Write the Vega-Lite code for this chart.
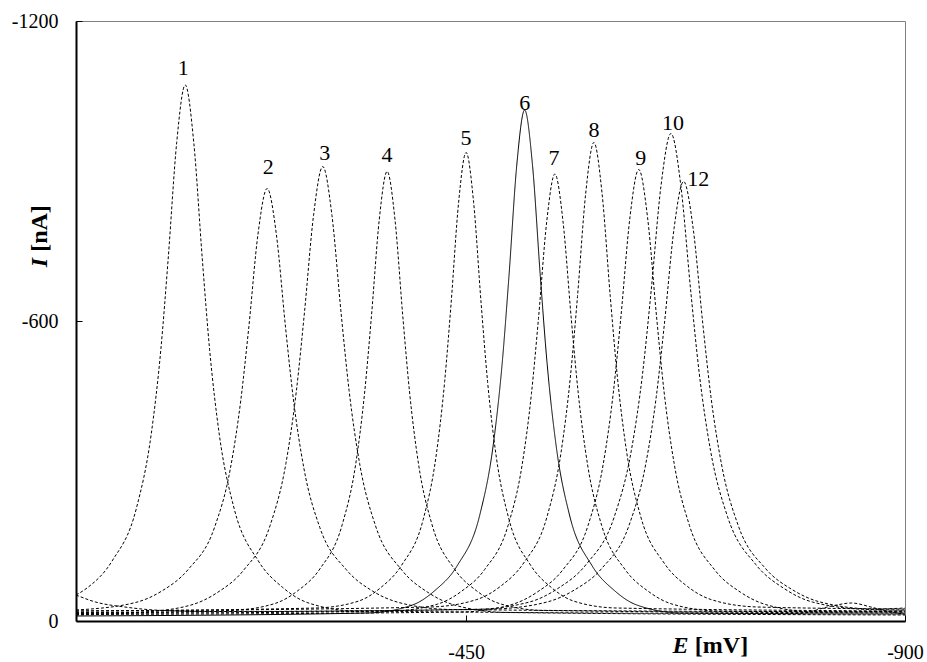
{
  "$schema": "https://vega.github.io/schema/vega-lite/v6.json",
  "width": 829,
  "height": 600,
  "autosize": {"type": "none"},
  "padding": {"left": 76, "top": 21, "right": 22, "bottom": 41},
  "background": "white",
  "config": {"view": {"stroke": "#808080", "strokeWidth": 1}, "font": "Liberation Serif"},
  "datasets": {
    "curves": [
      {"c": 1, "E": -50, "I": -52}, {"c": 1, "E": -62, "I": -67}, {"c": 1, "E": -87, "I": -120}, {"c": 1, "E": -112, "I": -226}, {"c": 1, "E": -127, "I": -372}, {"c": 1, "E": -137, "I": -543}, {"c": 1, "E": -144.5, "I": -724}, {"c": 1, "E": -153.25, "I": -957}, {"c": 1, "E": -162, "I": -1072}, {"c": 1, "E": -170.75, "I": -957}, {"c": 1, "E": -179.5, "I": -724}, {"c": 1, "E": -187, "I": -543}, {"c": 1, "E": -197, "I": -372}, {"c": 1, "E": -212, "I": -226}, {"c": 1, "E": -237, "I": -120}, {"c": 1, "E": -262, "I": -67}, {"c": 1, "E": -287, "I": -37}, {"c": 1, "E": -337, "I": -20}, {"c": 1, "E": -790, "I": -15}, {"c": 1, "E": -825, "I": -30}, {"c": 1, "E": -845, "I": -36}, {"c": 1, "E": -865, "I": -28}, {"c": 1, "E": -885, "I": -18}, {"c": 1, "E": -900, "I": -14},
      {"c": 2, "E": -50, "I": -22}, {"c": 2, "E": -111, "I": -37}, {"c": 2, "E": -138, "I": -60}, {"c": 2, "E": -165, "I": -103}, {"c": 2, "E": -192, "I": -187}, {"c": 2, "E": -208.2, "I": -304}, {"c": 2, "E": -219, "I": -442}, {"c": 2, "E": -227.1, "I": -586}, {"c": 2, "E": -236.55, "I": -773}, {"c": 2, "E": -246, "I": -865}, {"c": 2, "E": -255.45, "I": -773}, {"c": 2, "E": -264.9, "I": -586}, {"c": 2, "E": -273, "I": -442}, {"c": 2, "E": -283.8, "I": -304}, {"c": 2, "E": -300, "I": -187}, {"c": 2, "E": -327, "I": -103}, {"c": 2, "E": -354, "I": -60}, {"c": 2, "E": -381, "I": -37}, {"c": 2, "E": -435, "I": -23}, {"c": 2, "E": -900, "I": -18},
      {"c": 3, "E": -50, "I": -12}, {"c": 3, "E": -114, "I": -17}, {"c": 3, "E": -168, "I": -32}, {"c": 3, "E": -195, "I": -57}, {"c": 3, "E": -222, "I": -102}, {"c": 3, "E": -249, "I": -191}, {"c": 3, "E": -265.2, "I": -315}, {"c": 3, "E": -276, "I": -461}, {"c": 3, "E": -284.1, "I": -614}, {"c": 3, "E": -293.55, "I": -811}, {"c": 3, "E": -303, "I": -909}, {"c": 3, "E": -312.45, "I": -811}, {"c": 3, "E": -321.9, "I": -614}, {"c": 3, "E": -330, "I": -461}, {"c": 3, "E": -340.8, "I": -315}, {"c": 3, "E": -357, "I": -191}, {"c": 3, "E": -384, "I": -102}, {"c": 3, "E": -411, "I": -57}, {"c": 3, "E": -438, "I": -32}, {"c": 3, "E": -492, "I": -17}, {"c": 3, "E": -900, "I": -12},
      {"c": 4, "E": -50, "I": -16}, {"c": 4, "E": -208, "I": -21}, {"c": 4, "E": -254, "I": -35}, {"c": 4, "E": -277, "I": -60}, {"c": 4, "E": -300, "I": -104}, {"c": 4, "E": -323, "I": -193}, {"c": 4, "E": -336.8, "I": -314}, {"c": 4, "E": -346, "I": -458}, {"c": 4, "E": -352.9, "I": -609}, {"c": 4, "E": -360.95, "I": -803}, {"c": 4, "E": -369, "I": -899}, {"c": 4, "E": -377.05, "I": -803}, {"c": 4, "E": -385.1, "I": -609}, {"c": 4, "E": -392, "I": -458}, {"c": 4, "E": -401.2, "I": -314}, {"c": 4, "E": -415, "I": -193}, {"c": 4, "E": -438, "I": -104}, {"c": 4, "E": -461, "I": -60}, {"c": 4, "E": -484, "I": -35}, {"c": 4, "E": -530, "I": -21}, {"c": 4, "E": -900, "I": -16},
      {"c": 5, "E": -50, "I": -20}, {"c": 5, "E": -296, "I": -26}, {"c": 5, "E": -340, "I": -40}, {"c": 5, "E": -362, "I": -66}, {"c": 5, "E": -384, "I": -112}, {"c": 5, "E": -406, "I": -203}, {"c": 5, "E": -419.2, "I": -330}, {"c": 5, "E": -428, "I": -479}, {"c": 5, "E": -434.6, "I": -635}, {"c": 5, "E": -442.3, "I": -837}, {"c": 5, "E": -450, "I": -937}, {"c": 5, "E": -457.7, "I": -837}, {"c": 5, "E": -465.4, "I": -635}, {"c": 5, "E": -472, "I": -479}, {"c": 5, "E": -480.8, "I": -330}, {"c": 5, "E": -494, "I": -203}, {"c": 5, "E": -516, "I": -112}, {"c": 5, "E": -538, "I": -66}, {"c": 5, "E": -560, "I": -40}, {"c": 5, "E": -604, "I": -26}, {"c": 5, "E": -900, "I": -20},
      {"c": 6, "E": -50, "I": -10}, {"c": 6, "E": -349, "I": -16}, {"c": 6, "E": -395, "I": -32}, {"c": 6, "E": -418, "I": -61}, {"c": 6, "E": -441, "I": -111}, {"c": 6, "E": -464, "I": -212}, {"c": 6, "E": -477.8, "I": -352}, {"c": 6, "E": -487, "I": -516}, {"c": 6, "E": -493.9, "I": -689}, {"c": 6, "E": -501.95, "I": -912}, {"c": 6, "E": -510, "I": -1022}, {"c": 6, "E": -518.05, "I": -912}, {"c": 6, "E": -526.1, "I": -689}, {"c": 6, "E": -533, "I": -516}, {"c": 6, "E": -542.2, "I": -352}, {"c": 6, "E": -556, "I": -212}, {"c": 6, "E": -579, "I": -111}, {"c": 6, "E": -602, "I": -61}, {"c": 6, "E": -625, "I": -32}, {"c": 6, "E": -671, "I": -16}, {"c": 6, "E": -900, "I": -14},
      {"c": 7, "E": -50, "I": -15}, {"c": 7, "E": -373, "I": -20}, {"c": 7, "E": -421, "I": -34}, {"c": 7, "E": -445, "I": -59}, {"c": 7, "E": -469, "I": -103}, {"c": 7, "E": -493, "I": -191}, {"c": 7, "E": -507.4, "I": -312}, {"c": 7, "E": -517, "I": -455}, {"c": 7, "E": -524.2, "I": -605}, {"c": 7, "E": -532.6, "I": -798}, {"c": 7, "E": -541, "I": -894}, {"c": 7, "E": -549.4, "I": -798}, {"c": 7, "E": -557.8, "I": -605}, {"c": 7, "E": -565, "I": -455}, {"c": 7, "E": -574.6, "I": -312}, {"c": 7, "E": -589, "I": -191}, {"c": 7, "E": -613, "I": -103}, {"c": 7, "E": -637, "I": -59}, {"c": 7, "E": -661, "I": -34}, {"c": 7, "E": -709, "I": -20}, {"c": 7, "E": -900, "I": -18},
      {"c": 8, "E": -50, "I": -20}, {"c": 8, "E": -413, "I": -28}, {"c": 8, "E": -461, "I": -43}, {"c": 8, "E": -485, "I": -69}, {"c": 8, "E": -509, "I": -116}, {"c": 8, "E": -533, "I": -209}, {"c": 8, "E": -547.4, "I": -338}, {"c": 8, "E": -557, "I": -490}, {"c": 8, "E": -564.2, "I": -649}, {"c": 8, "E": -572.6, "I": -855}, {"c": 8, "E": -581, "I": -957}, {"c": 8, "E": -589.4, "I": -855}, {"c": 8, "E": -597.8, "I": -649}, {"c": 8, "E": -605, "I": -490}, {"c": 8, "E": -614.6, "I": -338}, {"c": 8, "E": -629, "I": -209}, {"c": 8, "E": -653, "I": -116}, {"c": 8, "E": -677, "I": -69}, {"c": 8, "E": -701, "I": -43}, {"c": 8, "E": -749, "I": -28}, {"c": 8, "E": -900, "I": -24},
      {"c": 9, "E": -50, "I": -13}, {"c": 9, "E": -445, "I": -18}, {"c": 9, "E": -497, "I": -33}, {"c": 9, "E": -523, "I": -58}, {"c": 9, "E": -549, "I": -102}, {"c": 9, "E": -575, "I": -191}, {"c": 9, "E": -590.6, "I": -314}, {"c": 9, "E": -601, "I": -458}, {"c": 9, "E": -608.8, "I": -610}, {"c": 9, "E": -617.9, "I": -806}, {"c": 9, "E": -627, "I": -903}, {"c": 9, "E": -636.1, "I": -806}, {"c": 9, "E": -645.2, "I": -610}, {"c": 9, "E": -653, "I": -458}, {"c": 9, "E": -663.4, "I": -314}, {"c": 9, "E": -679, "I": -191}, {"c": 9, "E": -705, "I": -102}, {"c": 9, "E": -731, "I": -58}, {"c": 9, "E": -757, "I": -33}, {"c": 9, "E": -809, "I": -18}, {"c": 9, "E": -900, "I": -20},
      {"c": 10, "E": -50, "I": -17}, {"c": 10, "E": -457, "I": -23}, {"c": 10, "E": -515, "I": -38}, {"c": 10, "E": -544, "I": -65}, {"c": 10, "E": -573, "I": -113}, {"c": 10, "E": -602, "I": -209}, {"c": 10, "E": -619.4, "I": -341}, {"c": 10, "E": -631, "I": -496}, {"c": 10, "E": -639.7, "I": -660}, {"c": 10, "E": -649.85, "I": -871}, {"c": 10, "E": -660, "I": -975}, {"c": 10, "E": -670.15, "I": -871}, {"c": 10, "E": -680.3, "I": -660}, {"c": 10, "E": -689, "I": -496}, {"c": 10, "E": -700.6, "I": -341}, {"c": 10, "E": -718, "I": -209}, {"c": 10, "E": -747, "I": -113}, {"c": 10, "E": -776, "I": -65}, {"c": 10, "E": -805, "I": -38}, {"c": 10, "E": -863, "I": -23}, {"c": 10, "E": -900, "I": -22},
      {"c": 12, "E": -50, "I": -52}, {"c": 12, "E": -70, "I": -38}, {"c": 12, "E": -100, "I": -28}, {"c": 12, "E": -140, "I": -21}, {"c": 12, "E": -200, "I": -19}, {"c": 12, "E": -477, "I": -24}, {"c": 12, "E": -533, "I": -38}, {"c": 12, "E": -561, "I": -62}, {"c": 12, "E": -589, "I": -105}, {"c": 12, "E": -617, "I": -191}, {"c": 12, "E": -633.8, "I": -310}, {"c": 12, "E": -645, "I": -449}, {"c": 12, "E": -653.4, "I": -596}, {"c": 12, "E": -663.2, "I": -785}, {"c": 12, "E": -673, "I": -879}, {"c": 12, "E": -682.8, "I": -785}, {"c": 12, "E": -692.6, "I": -596}, {"c": 12, "E": -701, "I": -449}, {"c": 12, "E": -712.2, "I": -310}, {"c": 12, "E": -729, "I": -191}, {"c": 12, "E": -757, "I": -105}, {"c": 12, "E": -785, "I": -62}, {"c": 12, "E": -813, "I": -38}, {"c": 12, "E": -869, "I": -24}, {"c": 12, "E": -900, "I": -26}
    ],
    "peaks": [
      {"lab": "1", "E": -160, "I": -1106},
      {"lab": "2", "E": -247, "I": -908},
      {"lab": "3", "E": -305, "I": -936},
      {"lab": "4", "E": -369, "I": -932},
      {"lab": "5", "E": -450, "I": -966},
      {"lab": "6", "E": -510, "I": -1036},
      {"lab": "7", "E": -540, "I": -926},
      {"lab": "8", "E": -581, "I": -982},
      {"lab": "9", "E": -629, "I": -926},
      {"lab": "10", "E": -662, "I": -996},
      {"lab": "12", "E": -688, "I": -884}
    ]
  },
  "layer": [
    {
      "data": {"name": "curves"},
      "mark": {"type": "line", "interpolate": "monotone", "strokeWidth": 1, "color": "black"},
      "encoding": {
        "x": {
          "field": "E", "type": "quantitative",
          "scale": {"domain": [-50, -900], "nice": false, "zero": false},
          "axis": {
            "values": [-450, -900], "grid": false, "tickSize": -6, "tickColor": "black",
            "domainColor": "black", "domainWidth": 2, "labelFlush": false,
            "labelExpr": "datum.value == 0 ? '0' : '-' + abs(datum.value)",
            "labelFont": "Liberation Serif", "labelFontSize": 20, "labelColor": "black", "labelPadding": 27,
            "title": "E", "titleFont": "Liberation Serif", "titleFontSize": 24, "titleFontWeight": "bold",
            "titleFontStyle": "italic", "titleColor": "black", "titleX": 604, "titleY": 31,
            "titleAlign": "center", "titleBaseline": "alphabetic"
          }
        },
        "y": {
          "field": "I", "type": "quantitative",
          "scale": {"domain": [0, -1200], "nice": false, "zero": false},
          "axis": {
            "values": [0, -600, -1200], "grid": false, "tickSize": -6, "tickColor": "black",
            "domainColor": "black", "domainWidth": 2, "labelFlush": false,
            "labelExpr": "datum.value == 0 ? '0' : '-' + abs(datum.value)",
            "labelFont": "Liberation Serif", "labelFontSize": 20, "labelColor": "black", "labelPadding": 24,
            "title": "I", "titleFont": "Liberation Serif", "titleFontSize": 24, "titleFontWeight": "bold",
            "titleFontStyle": "italic", "titleColor": "black", "titleX": -30, "titleY": 241,
            "titleAngle": 270, "titleAlign": "center", "titleBaseline": "alphabetic"
          }
        },
        "detail": {"field": "c"},
        "strokeDash": {"condition": {"test": "datum.c == 6", "value": [1, 0]}, "value": [3, 2]}
      }
    },
    {
      "data": {"name": "peaks"},
      "mark": {"type": "text", "font": "Liberation Serif", "fontSize": 22, "color": "black", "align": "center", "baseline": "middle"},
      "encoding": {
        "x": {
          "field": "E", "type": "quantitative",
          "axis": {
            "orient": "bottom", "labels": false, "ticks": false, "domain": false, "grid": false,
            "title": "[mV]", "titleFont": "Liberation Serif", "titleFontSize": 24, "titleFontWeight": "bold",
            "titleColor": "black", "titleX": 645, "titleY": 31, "titleAlign": "center", "titleBaseline": "alphabetic"
          }
        },
        "y": {
          "field": "I", "type": "quantitative",
          "axis": {
            "orient": "left", "labels": false, "ticks": false, "domain": false, "grid": false,
            "title": "[nA]", "titleFont": "Liberation Serif", "titleFontSize": 24, "titleFontWeight": "bold",
            "titleColor": "black", "titleX": -30, "titleY": 207, "titleAngle": 270,
            "titleAlign": "center", "titleBaseline": "alphabetic"
          }
        },
        "text": {"field": "lab"}
      }
    }
  ],
  "resolve": {"axis": {"x": "independent", "y": "independent"}}
}
